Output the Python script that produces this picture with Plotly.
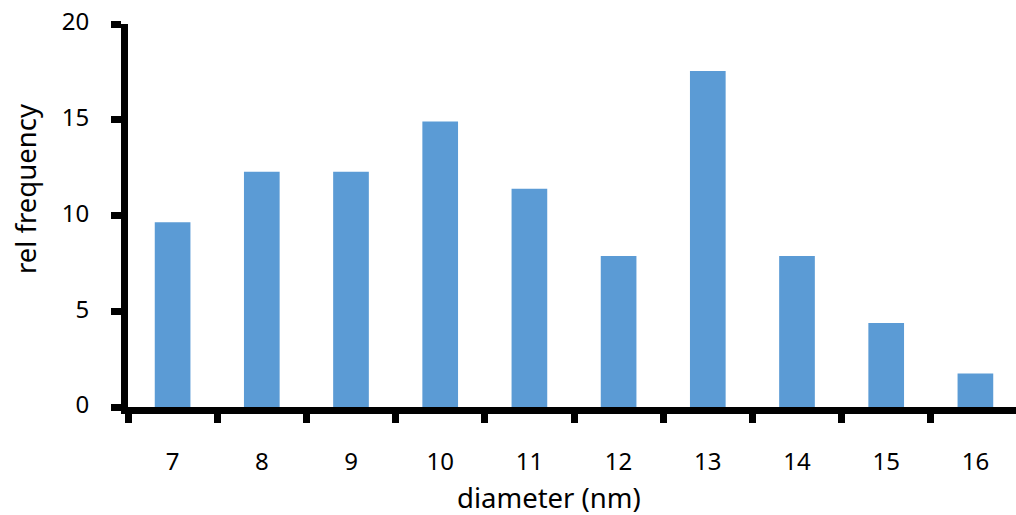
import plotly.graph_objects as go

diameters = ["7", "8", "9", "10", "11", "12", "13", "14", "15", "16"]
rel_frequency = [9.65, 12.28, 12.28, 14.91, 11.40, 7.89, 17.54, 7.89, 4.39, 1.75]
y_ticks = [0, 5, 10, 15, 20]
x_title = "diameter (nm)"
y_title = "rel frequency"

FONT = "Noto Sans"
W, H = 1016, 515
# plot area in page pixels
PL, PR, PT, PB = 128, 1016, 24, 407
CAT = 89.2

def px(x):
    return (x - PL) / (PR - PL)

def py(y):
    return (PB - y) / (PB - PT)

fig = go.Figure(go.Bar(x=diameters, y=rel_frequency, marker_color="#5B9BD5",
                       marker_line_width=0))

fig.update_layout(
    width=W, height=H,
    margin=dict(l=PL, r=W - PR, t=PT, b=H - PB, autoexpand=False),
    paper_bgcolor="white", plot_bgcolor="white",
    bargap=0.6, showlegend=False,
    font=dict(family=FONT, size=24, color="#000"),
)
fig.update_xaxes(
    type="category", range=[-0.5, -0.5 + (PR - PL) / CAT],
    showline=True, linecolor="black", linewidth=7,
    ticks="outside", tickson="boundaries", ticklen=9, tickwidth=7, tickcolor="black",
    ticklabelstandoff=27, showgrid=False, zeroline=False,
)
fig.update_yaxes(
    range=[0, 20.0001], tickvals=y_ticks, ticktext=[str(v) for v in y_ticks],
    showline=True, linecolor="black", linewidth=7,
    ticks="outside", ticklen=10, tickwidth=7, tickcolor="black",
    ticklabelstandoff=17, ticklabelshift=-2, ticklabeloverflow="allow",
    showgrid=False, zeroline=False,
)
fig.add_annotation(text=x_title, x=px(549), y=py(497), xref="paper", yref="paper",
                   xanchor="center", yanchor="middle", showarrow=False, borderpad=0,
                   font=dict(size=27.5, family=FONT, color="#000"))
fig.add_annotation(text=y_title, x=px(25), y=py(189), xref="paper", yref="paper",
                   xanchor="center", yanchor="middle", showarrow=False, textangle=-90,
                   borderpad=0, font=dict(size=27.5, family=FONT, color="#000"))

fig.write_html("out.html", config={"displayModeBar": False},
               post_script="document.body.style.margin='0';")
